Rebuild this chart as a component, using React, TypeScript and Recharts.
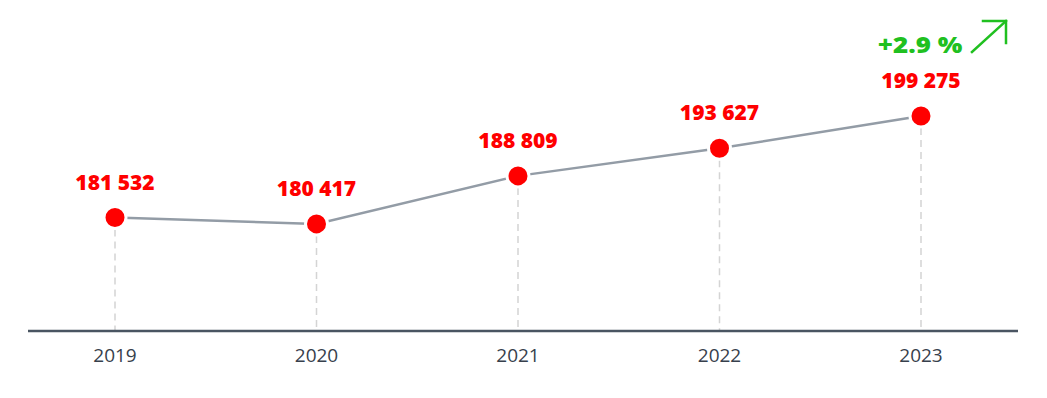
import React from 'react';
import { LineChart, Line, XAxis, YAxis, ReferenceLine, LabelList } from 'recharts';

const years = ['2019', '2020', '2021', '2022', '2023'];
const values = [181532, 180417, 188809, 193627, 199275];
const valueLabels = ['181 532', '180 417', '188 809', '193 627', '199 275'];
const growthLabel = '+2.9 %';
const yDomain = [161700, 216050];

const data = years.map((year, i) => ({ year, value: values[i], label: valueLabels[i] }));

const RED = '#ff0000';
const GREEN = '#20c020';
const FONT = '"Open Sans", "DejaVu Sans", sans-serif';

const renderTick = (props: any) => {
  const { x, y, payload } = props;
  return (
    <text x={x} y={y + 23} textAnchor="middle" fill="#37404c" fontSize={19} fontFamily={FONT}>
      {payload.value}
    </text>
  );
};

const renderLabel = (props: any) => {
  const { x, y, value, index } = props;
  const isLast = index === data.length - 1;
  return (
    <g>
      <text
        x={x}
        y={y - 28}
        textAnchor="middle"
        fill={RED}
        fontSize={21}
        fontWeight={800}
        fontFamily={FONT}
      >
        {value}
      </text>
      {isLast && (
        <g>
          <text
            transform={`translate(${x - 1}, ${y - 63}) scale(1.18, 1.05)`}
            textAnchor="middle"
            fill={GREEN}
            fontSize={22}
            fontWeight={800}
            fontFamily={FONT}
          >
            {growthLabel}
          </text>
          <g stroke={GREEN} strokeWidth={2.5} fill="none" strokeLinecap="square">
            <line x1={x + 51} y1={y - 64} x2={x + 85} y2={y - 95} />
            <polyline points={`${x + 62},${y - 95} ${x + 85},${y - 95} ${x + 85},${y - 73}`} />
          </g>
        </g>
      )}
    </g>
  );
};

export default function App() {
  return (
    <div style={{ position: 'absolute', left: 0, top: 0, width: 1047, height: 398, background: '#fff' }}>
      <LineChart
        width={1047}
        height={398}
        data={data}
        margin={{ top: 20, right: 29, left: 28, bottom: 27 }}
      >
        <XAxis
          dataKey="year"
          scale="point"
          padding={{ left: 87, right: 97 }}
          height={40}
          axisLine={{ stroke: '#4a5562', strokeWidth: 2.5 }}
          tickLine={false}
          tick={renderTick}
          interval={0}
        />
        <YAxis hide domain={yDomain} type="number" allowDataOverflow />
        {data.map((d) => (
          <ReferenceLine
            key={d.year}
            segment={[
              { x: d.year, y: d.value },
              { x: d.year, y: yDomain[0] },
            ]}
            stroke="#d4d4d4"
            strokeWidth={1.5}
            strokeDasharray="7 5"
            ifOverflow="visible"
          />
        ))}
        <Line
          type="linear"
          dataKey="value"
          stroke="#939ca6"
          strokeWidth={2.5}
          dot={{ r: 11, fill: RED, stroke: '#ffffff', strokeWidth: 3 }}
          activeDot={false}
          isAnimationActive={false}
        >
          <LabelList dataKey="label" content={renderLabel} />
        </Line>
      </LineChart>
    </div>
  );
}
